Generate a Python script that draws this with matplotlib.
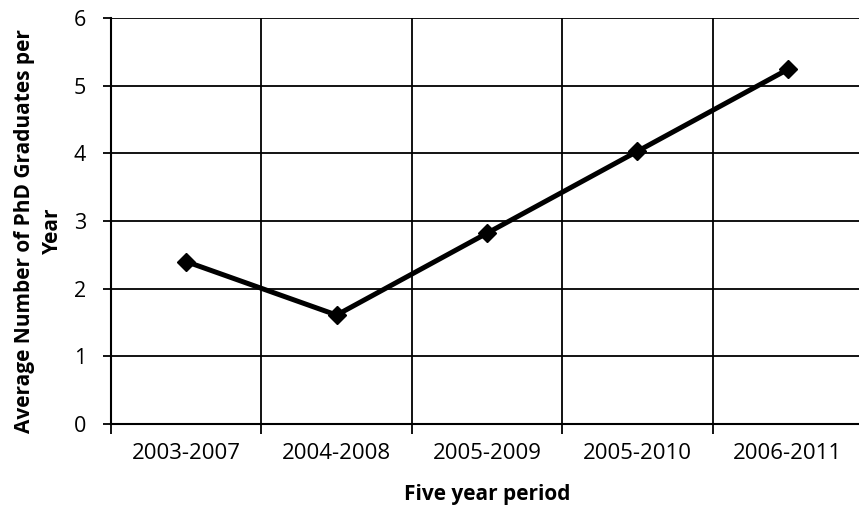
import matplotlib
matplotlib.use("Agg")
import matplotlib.pyplot as plt
import numpy as np

periods = ["2003-2007", "2004-2008", "2005-2009", "2005-2010", "2006-2011"]
avg_phd = [2.4, 1.61, 2.82, 4.03, 5.24]
y_ticks = [0, 1, 2, 3, 4, 5, 6]

plt.rcParams["font.family"] = ["Open Sans", "DejaVu Sans"]

fig = plt.figure(figsize=(8.59, 5.08), dpi=100)
ax = fig.add_axes([111 / 859, 1 - 424 / 508, 752 / 859, 406 / 508])

x = np.arange(len(periods))
ax.plot(x, avg_phd, color="black", lw=3.6, marker="D", ms=9.5, zorder=3)

ax.set_xlim(-0.5, len(periods) - 0.5)
ax.set_ylim(0, 6)
ax.set_yticks(y_ticks)
ax.set_xticks(x)
ax.set_xticklabels(periods)
ax.set_xticks(np.arange(len(periods) + 1) - 0.5, minor=True)

ax.grid(True, axis="y", which="major", color="black", lw=1.3)
ax.grid(True, axis="x", which="minor", color="black", lw=1.3)
ax.tick_params(axis="x", which="major", length=0, labelsize=16, pad=14)
ax.tick_params(axis="x", which="minor", length=7, width=1.3, direction="out")
ax.tick_params(axis="y", length=6, width=1.3, labelsize=15.5, pad=12)

for side in ["top", "right"]:
    ax.spines[side].set_visible(False)
for side in ["left", "bottom"]:
    ax.spines[side].set_linewidth(1.5)

ax.set_xlabel("Five year period", fontsize=15, fontweight="bold", labelpad=14)
ax.set_ylabel("Average Number of PhD Graduates per\nYear", fontsize=15,
              fontweight="bold", linespacing=1.45)
ax.yaxis.set_label_coords(-0.064, 0.475)

fig.savefig("out.png", dpi=100)
